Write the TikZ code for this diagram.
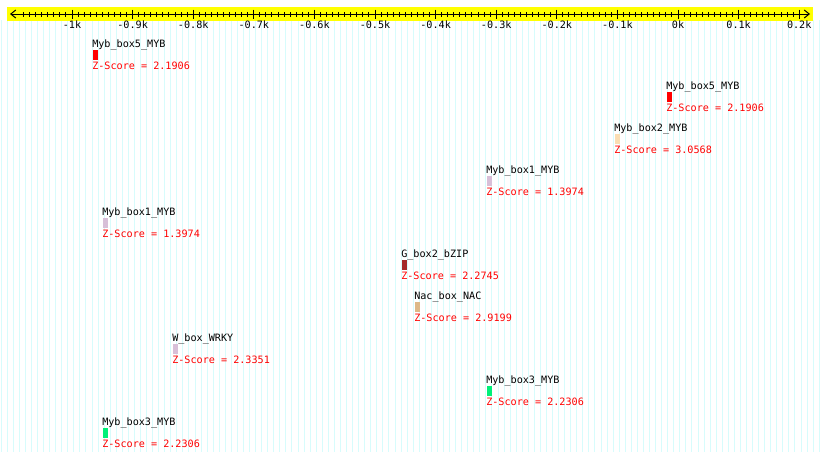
\documentclass[tikz,border=0pt]{standalone}
\usepackage{fontspec}
\setmonofont{DejaVu Sans Mono}
\usetikzlibrary{arrows.meta}
\definecolor{gridc}{RGB}{215,252,252}
\definecolor{axisyellow}{RGB}{255,255,0}
\definecolor{cRed}{RGB}{255,0,0}
\definecolor{cWheat}{RGB}{250,222,179}
\definecolor{cThistle}{RGB}{216,191,216}
\definecolor{cBrown}{RGB}{165,42,42}
\definecolor{cBurly}{RGB}{222,184,135}
\definecolor{cSpring}{RGB}{0,240,120}
\begin{document}
\begin{tikzpicture}[x=0.75pt,y=-0.75pt,
  font=\ttfamily\fontsize{7.6}{9}\selectfont,
  lbl/.style={anchor=base west, inner sep=0pt, text=black},
  zs/.style={anchor=base west, inner sep=0pt, text=cRed},
  tlbl/.style={anchor=base, inner sep=0pt, text=black},
  featbox/.style={anchor=north west, inner sep=0pt, minimum width=3.75pt, minimum height=7.5pt, draw=none},
  gridline/.style={draw=gridc, line width=0.6pt},
  axisline/.style={draw=black, line width=0.75pt}]
\useasboundingbox (0,0) rectangle (820,461);
\fill[white] (0,0) rectangle (820,461);
% background grid
\foreach \i in {0,...,135} {
  \draw[gridline] ({1+6.06*\i},20) -- ({1+6.06*\i},452);
}
% axis band
\fill[axisyellow] (7,6.5) rectangle (813,20.5);
\coordinate (axL) at (10,14);
\coordinate (axR) at (810,14);
\draw[axisline, {Straight Barb[length=3.75pt,width=6pt]}-{Straight Barb[length=3.75pt,width=6pt]}] (axL) -- (axR);
\foreach \i in {-108,...,20} {
  \draw[axisline] ({678+6.06*\i},12) -- ({678+6.06*\i},17);
}
\foreach \i/\t in {-10/-1k,-9/-0.9k,-8/-0.8k,-7/-0.7k,-6/-0.6k,-5/-0.5k,-4/-0.4k,-3/-0.3k,-2/-0.2k,-1/-0.1k,0/0k,1/0.1k,2/0.2k} {
  \draw[axisline] ({678+60.6*\i},9.5) -- ({678+60.6*\i},19);
  \node[tlbl] (t\i) at ({678+60.6*\i},28) {\t};
}
% features
\foreach \k/\x/\r/\nm/\col/\z in {
  1/92/44/Myb\_box5\_MYB/cRed/2.1906,
  2/666/86/Myb\_box5\_MYB/cRed/2.1906,
  3/614/128/Myb\_box2\_MYB/cWheat/3.0568,
  4/486/170/Myb\_box1\_MYB/cThistle/1.3974,
  5/102/212/Myb\_box1\_MYB/cThistle/1.3974,
  6/401/254/G\_box2\_bZIP/cBrown/2.2745,
  7/414/296/Nac\_box\_NAC/cBurly/2.9199,
  8/172/338/W\_box\_WRKY/cThistle/2.3351,
  9/486/380/Myb\_box3\_MYB/cSpring/2.2306,
  10/102/422/Myb\_box3\_MYB/cSpring/2.2306} {
  \node[lbl] (name\k) at (\x,{\r+3}) {\nm};
  \node[featbox, fill=\col] (box\k) at ({\x+0.5},{\r+6}) {};
  \node[zs] (z\k) at (\x,{\r+25}) {Z-Score = \z};
}
\end{tikzpicture}
\end{document}
